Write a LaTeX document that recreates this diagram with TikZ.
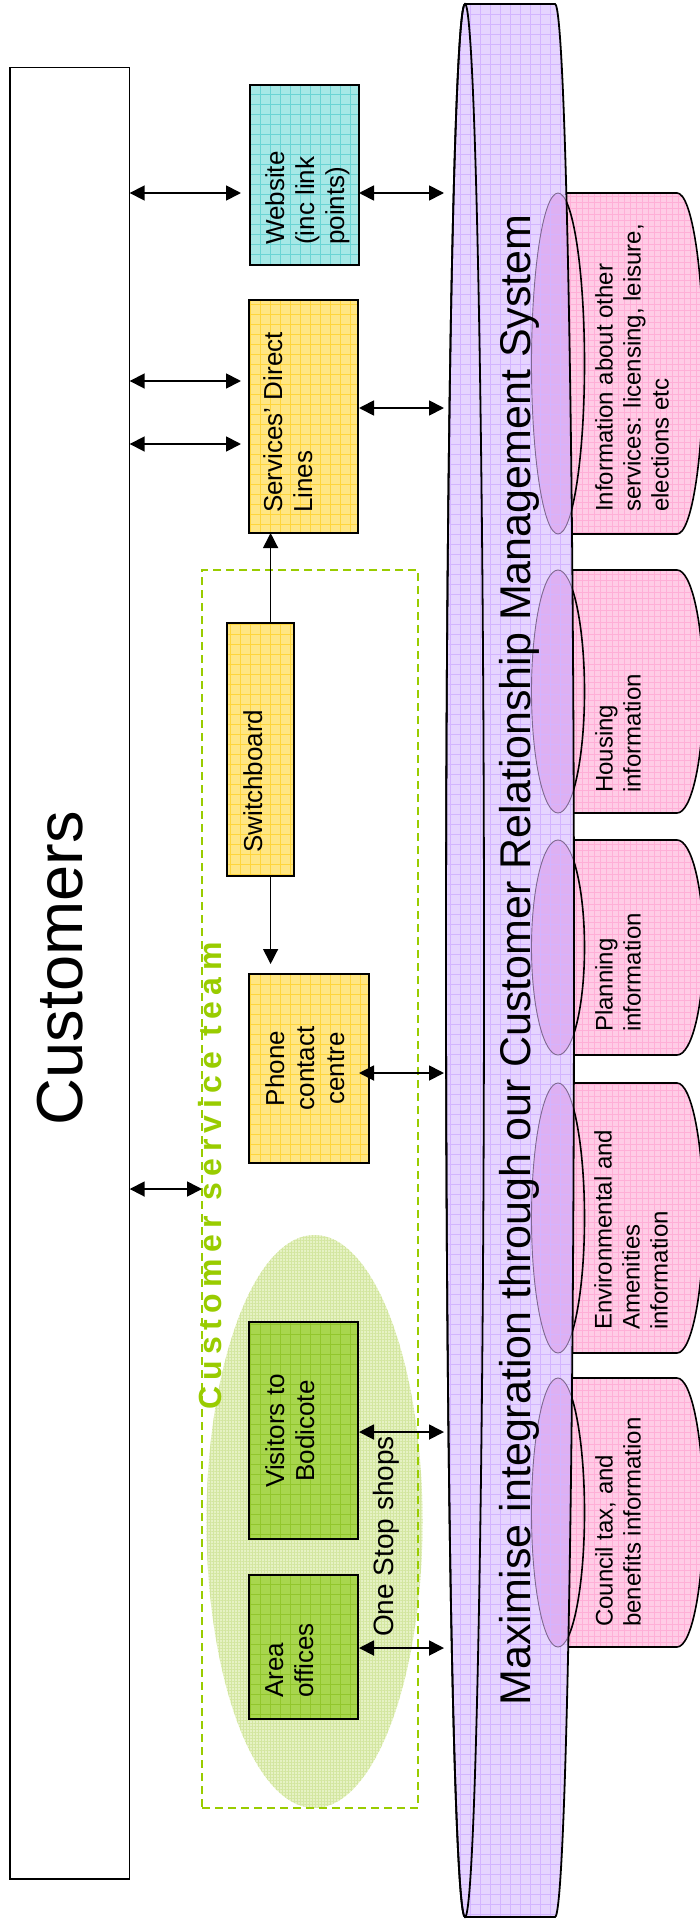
\documentclass[tikz,border=0pt]{standalone}
\usepackage{fontspec}
\setmainfont{Liberation Sans}
\newfontfamily\csfont[LetterSpace=20]{Liberation Sans}
\usetikzlibrary{arrows.meta,shapes.geometric,patterns.meta}

\definecolor{webfill}{HTML}{A6E8E6}
\definecolor{webline}{HTML}{6AD4D4}
\definecolor{yelfill}{HTML}{FFE684}
\definecolor{yelline}{HTML}{FFD53C}
\definecolor{grnfill}{HTML}{A8D64E}
\definecolor{grnline}{HTML}{92C62C}
\definecolor{ossfill}{HTML}{E6F2C4}
\definecolor{ossline}{HTML}{D3E6A0}
\definecolor{csgreen}{HTML}{99CC00}
\definecolor{crmfill}{HTML}{E6D4FF}
\definecolor{crmline}{HTML}{D3B4FF}
\definecolor{pinkfill}{HTML}{FFCCE6}
\definecolor{pinkline}{HTML}{FFAFD7}
\definecolor{ovfill}{HTML}{DEB0F2}
\definecolor{ovline}{HTML}{7E6890}

\tikzset{
  gridfill/.style 2 args={preaction={fill=#1}, pattern={Hatch[distance=10pt,angle=0,line width=0.45pt]}, pattern color=#2},
  finegrid/.style 2 args={preaction={fill=#1}, pattern={Hatch[distance=6pt,angle=0,line width=0.4pt]}, pattern color=#2},
  box/.style={draw=black, line width=1.5pt, inner sep=0pt, outer sep=0pt},
  webbox/.style={box, gridfill={webfill}{webline}},
  yelbox/.style={box, gridfill={yelfill}{yelline}},
  grnbox/.style={box, gridfill={grnfill}{grnline}},
  boxtxt/.style={rotate=90, inner sep=0pt, font=\fontsize{26pt}{30pt}\selectfont},
  pinktxt/.style={rotate=90, anchor=north west, inner sep=0pt, align=left, font=\fontsize{24pt}{28pt}\selectfont},
  tipA/.tip={Triangle[length=15pt,width=15pt]},
  dbl/.style={tipA-tipA, line width=1.8pt},
  sarr/.style={-tipA, line width=1.3pt},
}

\begin{document}
\begin{tikzpicture}[x=1pt,y=-1pt]
\useasboundingbox (0,0) rectangle (699,1924);
\fill[white] (0,0) rectangle (699,1924);

% ---- Customers
\node[box, line width=1.4pt, minimum width=119.9pt, minimum height=1811.6pt] (cust) at (69.75,973.2) {};
\node[rotate=90, anchor=base, inner sep=0pt, font=\fontsize{65pt}{70pt}\selectfont] (custtxt) at (82,968) {Customers};

% ---- One stop shops ellipse and team box
\node[ellipse, preaction={fill=ossfill}, pattern={Hatch[distance=3pt,angle=0,line width=0.35pt]}, pattern color=ossline, minimum width=216pt, minimum height=573pt, inner sep=0pt] (oss) at (314.5,1521.5) {};
\node[draw=csgreen, line width=1.8pt, dash pattern=on 8pt off 5pt, minimum width=216pt, minimum height=1238pt, inner sep=0pt, outer sep=0pt] (team) at (310,1189) {};
\node[rotate=90, anchor=base, inner sep=0pt, text=csgreen, font=\csfont\bfseries\fontsize{32pt}{36pt}\selectfont] (csttxt) at (221,1176) {Customer service team};

% ---- boxes
\node[webbox, minimum width=109pt, minimum height=180pt] (web) at (304.5,175) {};
\node[yelbox, minimum width=109pt, minimum height=233pt] (sdl) at (303.5,416.5) {};
\node[yelbox, minimum width=67pt, minimum height=253pt] (sw) at (260.5,749.5) {};
\node[yelbox, minimum width=120pt, minimum height=189pt] (phone) at (309,1068.5) {};
\node[grnbox, minimum width=109pt, minimum height=217pt] (vis) at (303.5,1430.5) {};
\node[grnbox, minimum width=109pt, minimum height=144pt] (area) at (303.5,1647) {};

\node[boxtxt, anchor=north west, align=left] (webtxt) at (265,245) {Website\\(inc link\\points)};
\node[boxtxt, anchor=north west, align=left] (sdltxt) at (263,513) {Services’ Direct\\Lines};
\node[boxtxt, anchor=north west, align=left] (swtxt) at (243,853) {Switchboard};
\node[boxtxt, anchor=north, align=center] (phonetxt) at (265,1068.5) {Phone\\contact\\centre};
\node[boxtxt, anchor=north, align=center] (vistxt) at (265,1431) {Visitors to\\Bodicote};
\node[boxtxt, anchor=north west, align=left] (areatxt) at (265,1698) {Area\\offices};
\node[rotate=90, anchor=north west, inner sep=0pt, font=\fontsize{28pt}{32pt}\selectfont] (osstxt) at (373,1637) {One Stop shops};

% ---- pink cylinders (under the CRM)
\foreach \t/\b in {193/534, 570/813, 840/1055, 1083/1353, 1378/1647} {
  \pgfmathsetmacro\pc{(\t+\b)/2}
  \pgfmathsetmacro\pr{(\b-\t)/2}
  \path[finegrid={pinkfill}{pinkline}, draw=black, line width=1.6pt]
    (558,\t) -- (677,\t) arc[start angle=90,end angle=-90,x radius=26.5pt,y radius=\pr*1pt]
    -- (558,\b) arc[start angle=-90,end angle=-270,x radius=26.5pt,y radius=\pr*1pt] -- cycle;
  \draw[line width=1.6pt] (558,\pc) ellipse[x radius=26.5pt,y radius=\pr*1pt];
}

% ---- CRM cylinder
\path[gridfill={crmfill}{crmline}]
  (465,4) -- (555,4) arc[start angle=90,end angle=-90,x radius=19pt,y radius=956.5pt]
  -- (465,1917) arc[start angle=-90,end angle=-270,x radius=19pt,y radius=956.5pt] -- cycle;
\begin{scope}
  \clip (465,4) -- (555,4) arc[start angle=90,end angle=-90,x radius=19pt,y radius=956.5pt]
    -- (465,1917) arc[start angle=-90,end angle=-270,x radius=19pt,y radius=956.5pt] -- cycle;
  \foreach \t/\b in {193/534, 570/813, 840/1055, 1083/1353, 1378/1647} {
    \pgfmathsetmacro\pc{(\t+\b)/2}
    \pgfmathsetmacro\pr{(\b-\t)/2}
    \path[gridfill={ovfill}{crmline}] (558,\pc) ellipse[x radius=26.5pt,y radius=\pr*1pt];
    \draw[ovline, line width=0.9pt] (558,\pc) ellipse[x radius=26.5pt,y radius=\pr*1pt];
  }
\end{scope}
\draw[line width=1.8pt]
  (465,4) -- (555,4) arc[start angle=90,end angle=-90,x radius=19pt,y radius=956.5pt]
  -- (465,1917) arc[start angle=-90,end angle=-270,x radius=19pt,y radius=956.5pt] -- cycle;
\draw[line width=1.8pt] (465,960.5) ellipse[x radius=19pt,y radius=956.5pt];
\node[rotate=90, anchor=base, inner sep=0pt, font=\fontsize{43pt}{48pt}\selectfont] (crmtxt) at (530.5,960)
  {Maximise integration through our Customer Relationship Management System};

% ---- pink texts
\node[pinktxt] (p1) at (595,512) {Information about other\\services: licensing, leisure,\\elections etc};
\node[pinktxt] (p2) at (595,793) {Housing\\information};
\node[pinktxt] (p3) at (595,1032) {Planning\\information};
\node[pinktxt] (p4) at (594,1330) {Environmental and\\Amenities\\information};
\node[pinktxt] (p5) at (595,1627) {Council tax, and\\benefits information};

% ---- connectors
\coordinate (lt) at (241,0);
\coordinate (bxr) at (359,0);
\coordinate (crmL) at (444,0);
\coordinate (swx) at (270.6,0);
\coordinate (r1) at (0,193);
\coordinate (r2) at (0,381);
\coordinate (r3) at (0,444);
\coordinate (r4) at (0,408);
\coordinate (r5) at (0,1073);
\coordinate (r6) at (0,1432);
\coordinate (r7) at (0,1648);

\draw[dbl] (cust.east |- r1) -- (lt |- r1);
\draw[dbl] (bxr |- r1) -- (crmL |- r1);
\draw[dbl] (cust.east |- r2) -- (lt |- r2);
\draw[dbl] (cust.east |- r3) -- (lt |- r3);
\draw[dbl] (bxr |- r4) -- (crmL |- r4);
\draw[dbl] (bxr |- r5) -- (crmL |- r5);
\draw[dbl] (cust.east |- team.west) -- (team.west);
\draw[dbl] (bxr |- r6) -- (crmL |- r6);
\draw[dbl] (bxr |- r7) -- (crmL |- r7);
\draw[sarr] (sw.north -| swx) -- (sdl.south -| swx);
\draw[sarr, shorten >=10pt] (sw.south -| swx) -- (phone.north -| swx);
\end{tikzpicture}
\end{document}
